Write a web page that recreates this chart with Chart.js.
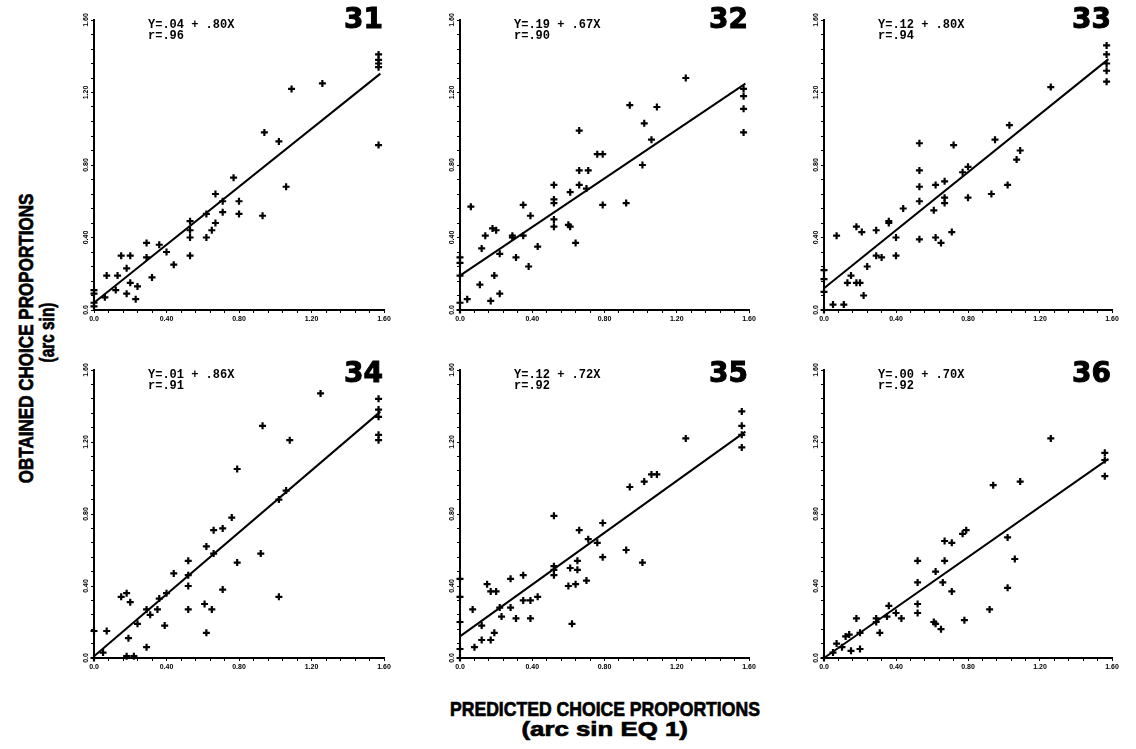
<!DOCTYPE html>
<html>
<head>
<meta charset="utf-8">
<script src="https://cdn.jsdelivr.net/npm/chart.js@4.4.1/dist/chart.umd.min.js"></script>
<style>
  html, body { margin: 0; padding: 0; background: #fff; }
  body { width: 1136px; height: 749px; position: relative; overflow: hidden; }
  canvas { position: absolute; }
  .title {
    position: absolute;
    font-family: "Liberation Sans", Arial, sans-serif;
    font-weight: bold;
    font-size: 21px;
    line-height: 1;
    white-space: nowrap;
    color: #000;
    -webkit-text-stroke: 0.7px #000;
  }
</style>
</head>
<body>
<div class="title" id="yTitle1">OBTAINED CHOICE PROPORTIONS</div>
<div class="title" id="yTitle2">(arc sin)</div>
<div class="title" id="xTitle1">PREDICTED CHOICE PROPORTIONS</div>
<div class="title" id="xTitle2">(arc sin EQ 1)</div>

<script>
// panel ids and fitted regression values
const panelIds = ["31", "32", "33", "34", "35", "36"];
const intercepts = [0.04, 0.19, 0.12, 0.01, 0.12, 0.00];
const slopes = [0.80, 0.67, 0.80, 0.86, 0.72, 0.70];
const rValues = [0.96, 0.90, 0.94, 0.91, 0.92, 0.92];
const lineX = [0, 1.58];

// axis ticks (both axes)
const tickValues = [0, 0.4, 0.8, 1.2, 1.6];
const tickLabels = ["0.0", "0.40", "0.80", "1.20", "1.60"];

// predicted (x) and obtained (y) choice proportions, arc sin
const x31 = [1.57, 1.57, 1.57, 1.57, 1.57, 1.09, 1.26, 0.94, 1.02, 1.06, 0.93, 0.77, 0.80, 0.80, 0.67, 0.71, 0.71, 0.67, 0.62, 0.65, 0.62, 0.53, 0.53, 0.53, 0.53, 0.40, 0.36, 0.44, 0.29, 0.29, 0.32, 0.20, 0.15, 0.18, 0.13, 0.07, 0.20, 0.24, 0.18, 0.12, 0.23, 0.06, 0, 0, 0, 0];
const y31 = [1.41, 1.38, 1.36, 1.34, 0.91, 1.22, 1.25, 0.98, 0.93, 0.68, 0.52, 0.73, 0.60, 0.53, 0.64, 0.60, 0.54, 0.48, 0.53, 0.44, 0.40, 0.49, 0.44, 0.40, 0.30, 0.32, 0.36, 0.25, 0.37, 0.29, 0.18, 0.30, 0.30, 0.23, 0.19, 0.19, 0.15, 0.13, 0.09, 0.11, 0.06, 0.07, 0.11, 0.09, 0.04, 0.02];

const x32 = [1.25, 1.57, 1.57, 1.57, 1.57, 0.94, 1.09, 1.02, 1.06, 1.01, 0.92, 0.66, 0.76, 0.79, 0.66, 0.71, 0.66, 0.70, 0.61, 0.79, 0.52, 0.52, 0.52, 0.52, 0.52, 0.60, 0.61, 0.64, 0.35, 0.39, 0.35, 0.29, 0.29, 0.31, 0.38, 0.43, 0.18, 0.20, 0.14, 0.12, 0.22, 0.06, 0.19, 0.11, 0.22, 0.17, 0.04, 0, 0, 0, 0, 0];
const y32 = [1.28, 1.22, 1.18, 1.11, 0.98, 1.13, 1.12, 1.03, 0.94, 0.80, 0.59, 0.99, 0.86, 0.86, 0.77, 0.77, 0.69, 0.67, 0.65, 0.58, 0.69, 0.61, 0.59, 0.50, 0.46, 0.47, 0.46, 0.37, 0.58, 0.52, 0.41, 0.41, 0.40, 0.29, 0.24, 0.35, 0.45, 0.44, 0.41, 0.34, 0.31, 0.57, 0.19, 0.14, 0.09, 0.05, 0.06, 0.29, 0.26, 0.19, 0.04, 0.0];

const x33 = [1.57, 1.57, 1.57, 1.57, 1.57, 1.26, 1.03, 0.95, 1.09, 1.07, 1.02, 0.93, 0.72, 0.77, 0.80, 0.80, 0.53, 0.53, 0.53, 0.53, 0.53, 0.62, 0.67, 0.67, 0.67, 0.61, 0.71, 0.62, 0.65, 0.44, 0.36, 0.36, 0.40, 0.40, 0.29, 0.18, 0.21, 0.07, 0.29, 0.32, 0.24, 0.15, 0.13, 0.18, 0.20, 0.22, 0.05, 0.11, 0, 0, 0, 0];
const y33 = [1.46, 1.41, 1.36, 1.32, 1.26, 1.23, 1.02, 0.94, 0.88, 0.83, 0.69, 0.64, 0.91, 0.76, 0.79, 0.62, 0.92, 0.77, 0.68, 0.60, 0.39, 0.69, 0.71, 0.62, 0.59, 0.55, 0.43, 0.40, 0.37, 0.56, 0.49, 0.48, 0.40, 0.30, 0.44, 0.46, 0.43, 0.41, 0.30, 0.29, 0.24, 0.19, 0.15, 0.15, 0.15, 0.08, 0.03, 0.03, 0.22, 0.17, 0.10, 0.0];

const x34 = [1.57, 1.57, 1.57, 1.57, 1.57, 1.25, 0.93, 1.08, 0.79, 1.06, 1.02, 0.76, 0.66, 0.71, 0.62, 0.66, 0.92, 0.79, 0.52, 0.52, 0.52, 0.52, 0.44, 0.71, 0.61, 0.65, 0.62, 1.02, 0.40, 0.36, 0.35, 0.29, 0.31, 0.39, 0.24, 0.15, 0.18, 0.20, 0.07, 0, 0.19, 0.29, 0.18, 0.22, 0, 0.05];
const y34 = [1.44, 1.38, 1.34, 1.24, 1.21, 1.47, 1.29, 1.21, 1.05, 0.93, 0.88, 0.78, 0.71, 0.72, 0.62, 0.58, 0.58, 0.53, 0.54, 0.46, 0.40, 0.27, 0.47, 0.38, 0.30, 0.27, 0.14, 0.34, 0.36, 0.33, 0.27, 0.27, 0.24, 0.18, 0.19, 0.34, 0.36, 0.31, 0.15, 0.15, 0.11, 0.06, 0.01, 0.01, 0, 0.03];

const x35 = [1.56, 1.56, 1.56, 1.56, 1.25, 1.06, 1.09, 1.02, 0.94, 0.52, 0.79, 0.66, 0.71, 0.76, 0.92, 0.79, 1.01, 0.65, 0.65, 0.61, 0.52, 0.52, 0.52, 0.60, 0.64, 0.70, 0.62, 0.35, 0.28, 0.35, 0.39, 0.43, 0.15, 0.17, 0.20, 0.28, 0.22, 0.23, 0.31, 0.39, 0.07, 0.12, 0.19, 0.12, 0.17, 0, 0, 0, 0.08, 0, 0];
const y35 = [1.37, 1.29, 1.24, 1.17, 1.22, 1.02, 1.02, 0.98, 0.95, 0.79, 0.75, 0.71, 0.66, 0.64, 0.60, 0.56, 0.53, 0.54, 0.49, 0.50, 0.51, 0.49, 0.46, 0.40, 0.41, 0.43, 0.19, 0.46, 0.44, 0.32, 0.32, 0.34, 0.41, 0.37, 0.37, 0.28, 0.28, 0.23, 0.22, 0.22, 0.27, 0.18, 0.14, 0.10, 0.10, 0.44, 0.34, 0.20, 0.06, 0.05, 0];

const x36 = [1.26, 1.56, 1.56, 1.56, 0.94, 1.09, 1.02, 1.06, 1.02, 0.92, 0.77, 0.79, 0.67, 0.71, 0.67, 0.62, 0.66, 0.71, 0.52, 0.52, 0.52, 0.52, 0.78, 0.61, 0.62, 0.65, 0.36, 0.40, 0.43, 0.35, 0.29, 0.29, 0.18, 0.31, 0.20, 0.14, 0.12, 0.07, 0.10, 0.15, 0.20, 0.05, 0];
const y36 = [1.22, 1.14, 1.10, 1.01, 0.96, 0.98, 0.67, 0.55, 0.39, 0.27, 0.69, 0.71, 0.65, 0.64, 0.54, 0.48, 0.42, 0.37, 0.54, 0.42, 0.30, 0.25, 0.21, 0.20, 0.19, 0.16, 0.29, 0.25, 0.22, 0.23, 0.22, 0.20, 0.22, 0.14, 0.14, 0.13, 0.12, 0.08, 0.06, 0.04, 0.05, 0.03, 0];

const xSeries = [x31, x32, x33, x34, x35, x36];
const ySeries = [y31, y32, y33, y34, y35, y36];

// plot area of each panel on the page (left, top, right, bottom)
const areas = [
  [94, 20, 384, 310], [460, 20, 749, 310], [824, 20, 1112, 310],
  [94, 370, 384, 658], [460, 370, 749, 658], [824, 370, 1112, 658]
];
const PAD_L = 30, PAD_R = 34, PAD_T = 22, PAD_B = 22;

function frac(v) {
  return "." + String(Math.round(Math.abs(v) * 100)).padStart(2, "0");
}

function tickText(v) {
  const i = tickValues.findIndex(t => Math.abs(t - v) < 1e-6);
  return i >= 0 ? tickLabels[i] : "";
}

const panelText = {
  id: "panelText",
  afterDraw(chart, args, opts) {
    const ctx = chart.ctx;
    const a = chart.chartArea;
    ctx.save();
    ctx.fillStyle = "#000";
    ctx.textAlign = "left";
    ctx.textBaseline = "alphabetic";
    ctx.font = 'bold 12px "Liberation Mono", "DejaVu Sans Mono", monospace';
    ctx.fillText("Y=" + frac(opts.a) + " + " + frac(opts.b) + "X", a.left + 54, a.top + 8);
    ctx.fillText("r=" + frac(opts.r), a.left + 54, a.top + 19);
    ctx.font = 'bold 28px "DejaVu Sans", sans-serif';
    ctx.textAlign = "right";
    ctx.strokeStyle = "#000";
    ctx.lineWidth = 1;
    ctx.fillText(opts.label, a.right - 1, a.top + opts.numY);
    ctx.strokeText(opts.label, a.right - 1, a.top + opts.numY);
    ctx.restore();
  }
};

function axisOptions(isX) {
  return {
    type: "linear",
    position: isX ? "bottom" : "left",
    min: 0,
    max: 1.6,
    afterFit: (s) => {
      if (isX) s.height = PAD_B; else s.width = PAD_L;
    },
    border: { display: true, color: "#000", width: 2 },
    grid: {
      display: true,
      drawOnChartArea: false,
      drawTicks: true,
      tickLength: 3,
      tickColor: "#000",
      tickWidth: 1
    },
    ticks: {
      stepSize: 0.08,
      autoSkip: false,
      color: "#000",
      font: { family: '"Liberation Sans", Arial, sans-serif', size: 7, weight: "bold" },
      padding: isX ? 2 : -2,
      minRotation: isX ? 0 : 90,
      maxRotation: isX ? 0 : 90,
      crossAlign: isX ? "near" : "center",
      callback: tickText
    }
  };
}

panelIds.forEach((id, i) => {
  const [L, T, R, B] = areas[i];
  const canvas = document.createElement("canvas");
  const w = (R - L) + PAD_L + PAD_R;
  const h = (B - T) + PAD_T + PAD_B;
  canvas.width = w;
  canvas.height = h;
  canvas.style.left = (L - PAD_L) + "px";
  canvas.style.top = (T - PAD_T) + "px";
  canvas.style.width = w + "px";
  canvas.style.height = h + "px";
  document.body.appendChild(canvas);

  const pts = xSeries[i].map((x, k) => ({ x: x, y: ySeries[i][k] }));
  const fit = lineX.map(x => ({ x: x, y: intercepts[i] + slopes[i] * x }));

  new Chart(canvas.getContext("2d"), {
    type: "scatter",
    data: {
      datasets: [
        {
          data: pts,
          pointStyle: "cross",
          pointRadius: 3.5,
          borderWidth: 2.2,
          borderColor: "#000",
          backgroundColor: "#000",
          clip: false
        },
        {
          data: fit,
          showLine: true,
          pointRadius: 0,
          borderColor: "#000",
          borderWidth: 2,
          clip: false
        }
      ]
    },
    options: {
      responsive: false,
      animation: false,
      devicePixelRatio: 1,
      layout: { padding: { left: 0, right: PAD_R, top: PAD_T, bottom: 0 } },
      scales: { x: axisOptions(true), y: axisOptions(false) },
      plugins: {
        legend: { display: false },
        tooltip: { enabled: false },
        panelText: { a: intercepts[i], b: slopes[i], r: rValues[i], label: id, numY: i < 3 ? 8 : 12 }
      }
    },
    plugins: [panelText]
  });
});

// axis titles: condensed by a horizontal squeeze to the reference width
function placeTitle(id, cx, cy, width, vertical) {
  const el = document.getElementById(id);
  const w = el.offsetWidth, h = el.offsetHeight;
  const k = width / w;
  el.style.left = (cx - w / 2) + "px";
  el.style.top = (cy - h / 2) + "px";
  el.style.transform = (vertical ? "rotate(-90deg) " : "") + "scaleX(" + k + ")";
}
placeTitle("yTitle1", 25, 338, 290, true);
placeTitle("yTitle2", 47, 332, 60, true);
placeTitle("xTitle1", 605, 708, 310, false);
placeTitle("xTitle2", 604, 728, 166, false);
</script>
</body>
</html>
